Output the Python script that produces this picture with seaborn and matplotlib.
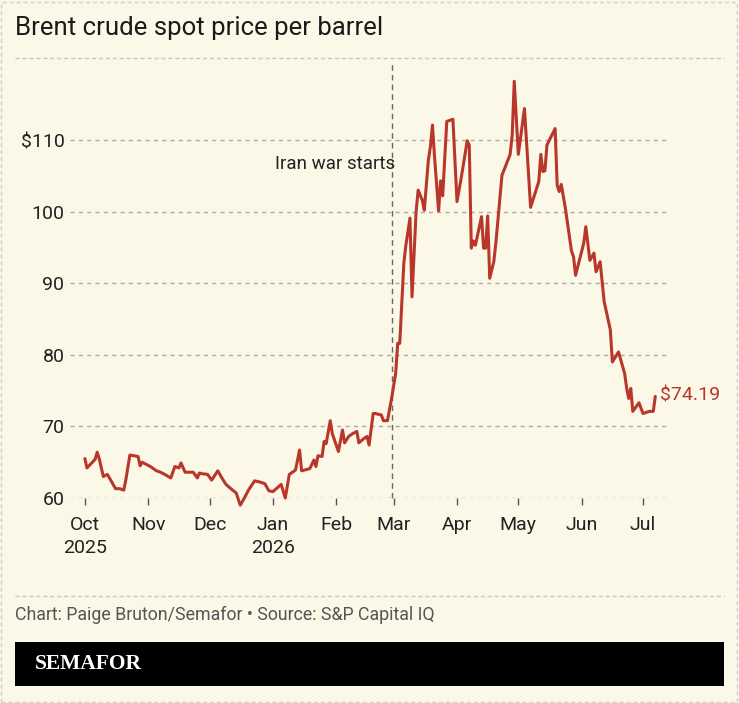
import pandas as pd
import matplotlib
matplotlib.use("Agg")
import matplotlib.pyplot as plt
import seaborn as sns
from matplotlib.lines import Line2D
from matplotlib.patches import Rectangle

# Brent crude, daily-ish readings (USD per barrel)
dates = [
    "2025-10-01", "2025-10-02", "2025-10-04", "2025-10-06", "2025-10-07", "2025-10-08",
    "2025-10-10", "2025-10-12", "2025-10-14", "2025-10-16", "2025-10-18", "2025-10-20",
    "2025-10-21", "2025-10-23", "2025-10-25", "2025-10-27", "2025-10-28", "2025-10-29",
    "2025-11-02", "2025-11-05", "2025-11-07", "2025-11-09", "2025-11-12", "2025-11-14",
    "2025-11-16", "2025-11-17", "2025-11-19", "2025-11-23", "2025-11-25", "2025-11-26",
    "2025-11-27", "2025-11-30", "2025-12-02", "2025-12-05", "2025-12-07", "2025-12-09",
    "2025-12-11", "2025-12-14", "2025-12-16", "2025-12-18", "2025-12-20", "2025-12-23",
    "2025-12-26", "2025-12-28", "2025-12-30", "2026-01-01", "2026-01-05", "2026-01-07",
    "2026-01-09", "2026-01-11", "2026-01-12", "2026-01-14", "2026-01-15", "2026-01-19",
    "2026-01-21", "2026-01-22", "2026-01-23", "2026-01-25", "2026-01-26", "2026-01-27",
    "2026-01-29", "2026-01-30", "2026-02-02", "2026-02-04", "2026-02-05", "2026-02-07",
    "2026-02-09", "2026-02-11", "2026-02-12", "2026-02-14", "2026-02-16", "2026-02-17",
    "2026-02-19", "2026-02-20", "2026-02-23", "2026-02-24", "2026-02-26", "2026-02-28",
    "2026-03-02", "2026-03-03", "2026-03-04", "2026-03-06", "2026-03-07", "2026-03-09",
    "2026-03-10", "2026-03-12", "2026-03-13", "2026-03-15", "2026-03-16", "2026-03-18",
    "2026-03-19", "2026-03-20", "2026-03-21", "2026-03-23", "2026-03-24", "2026-03-25",
    "2026-03-27", "2026-03-30", "2026-04-01", "2026-04-03", "2026-04-06", "2026-04-07",
    "2026-04-08", "2026-04-09", "2026-04-10", "2026-04-13", "2026-04-14", "2026-04-15",
    "2026-04-16", "2026-04-17", "2026-04-19", "2026-04-20", "2026-04-23", "2026-04-24",
    "2026-04-27", "2026-04-28", "2026-04-29", "2026-05-01", "2026-05-04", "2026-05-07",
    "2026-05-11", "2026-05-12", "2026-05-13", "2026-05-14", "2026-05-15", "2026-05-19",
    "2026-05-20", "2026-05-21", "2026-05-22", "2026-05-24", "2026-05-27", "2026-05-28",
    "2026-05-29", "2026-06-02", "2026-06-03", "2026-06-05", "2026-06-07", "2026-06-08",
    "2026-06-10", "2026-06-12", "2026-06-15", "2026-06-16", "2026-06-19", "2026-06-22",
    "2026-06-23", "2026-06-24", "2026-06-25", "2026-06-26", "2026-06-29", "2026-07-01",
    "2026-07-04", "2026-07-06", "2026-07-07",
]
prices = [
    65.5, 64.2, 64.8, 65.4, 66.4, 65.5,
    63.0, 63.3, 62.3, 61.3, 61.3, 61.1,
    62.5, 66.0, 65.9, 65.8, 64.5, 65.0,
    64.4, 63.8, 63.6, 63.3, 62.8, 64.4,
    64.2, 64.9, 63.6, 63.6, 62.8, 63.5,
    63.4, 63.3, 62.5, 63.8, 62.8, 61.9,
    61.4, 60.7, 59.0, 60.0, 61.1, 62.4,
    62.2, 62.0, 61.0, 60.9, 61.9, 60.0,
    63.3, 63.7, 63.9, 66.7, 63.8, 64.1,
    65.3, 64.4, 65.9, 65.8, 67.9, 67.6,
    70.8, 69.0, 66.5, 69.5, 67.7, 68.6,
    69.0, 69.3, 67.7, 68.2, 68.6, 67.4,
    71.8, 71.8, 71.6, 70.8, 70.8, 73.9,
    77.4, 81.6, 81.6, 92.8, 95.3, 99.1,
    88.1, 100.0, 103.0, 101.6, 100.2, 107.2,
    109.1, 112.1, 107.7, 100.1, 104.3, 102.2,
    112.6, 112.9, 101.4, 104.6, 109.9, 109.3,
    94.9, 95.9, 95.3, 99.3, 94.9, 94.9,
    99.4, 90.7, 93.0, 95.6, 105.1, 105.8,
    108.0, 110.7, 118.2, 108.0, 114.4, 100.6,
    104.2, 108.0, 105.6, 105.7, 109.3, 111.6,
    103.7, 102.8, 103.8, 100.5, 94.5, 93.7,
    91.1, 95.6, 97.9, 93.2, 94.2, 91.6,
    93.0, 87.4, 83.5, 79.0, 80.4, 77.4,
    75.3, 73.9, 75.3, 72.1, 73.3, 71.8,
    72.1, 72.1, 74.19,
]

month_ticks = ["2025-10-01", "2025-11-01", "2025-12-01", "2026-01-01", "2026-02-01",
               "2026-03-01", "2026-04-01", "2026-05-01", "2026-06-01", "2026-07-01"]
month_labels = ["Oct\n2025", "Nov", "Dec", "Jan\n2026", "Feb",
                "Mar", "Apr", "May", "Jun", "Jul"]
y_ticks = [60, 70, 80, 90, 100, 110]
y_labels = ["60", "70", "80", "90", "100", "$110"]

war_date = "2026-02-28"
war_label = "Iran war starts"
last_label = "$74.19"

BG = "#FBF8E7"
RED = "#B8372A"
GRID = "#ABABAB"

df = pd.DataFrame({"date": pd.to_datetime(dates), "price": prices})

sns.set_theme(style="white")
plt.rcParams["font.family"] = ["Roboto", "DejaVu Sans"]

fig = plt.figure(figsize=(7.39, 7.03), dpi=100, facecolor=BG)
ax = fig.add_axes([70 / 739, 1 - 498 / 703, 598 / 739, (498 - 75.6) / 703])
ax.set_facecolor(BG)

sns.lineplot(data=df, x="date", y="price", ax=ax, color=RED, linewidth=2.2,
             clip_on=False, zorder=5)

ax.set_xlim(pd.Timestamp("2025-09-23 17:00"), pd.Timestamp("2026-07-13 05:00"))
ax.set_ylim(60, 119)

# horizontal grid
for v in y_ticks:
    ax.axhline(v, color=GRID, linewidth=1, dashes=(3, 3), zorder=1)

ax.set_yticks(y_ticks)
ax.set_yticklabels(y_labels)
ax.set_xticks(pd.to_datetime(month_ticks))
ax.set_xticklabels(month_labels)
for lab in ax.get_xticklabels():
    lab.set_linespacing(1.35)

ax.tick_params(axis="y", length=0, pad=4, labelsize=14, labelcolor="#222222")
ax.tick_params(axis="x", length=5, width=1, color="#555555", pad=8,
               labelsize=14, labelcolor="#222222", bottom=True)
for s in ax.spines.values():
    s.set_visible(False)
ax.set_xlabel("")
ax.set_ylabel("")

# war marker
wd = pd.Timestamp(war_date)
ax.plot([wd, wd], [60, 121], color="#666666", linewidth=1, dashes=(4, 3),
        clip_on=False, zorder=2)
ax.text(pd.Timestamp("2026-03-01 12:00"), 106.6, war_label, ha="right", va="center",
        fontsize=13.5, color="#222222", zorder=3)

ax.text(pd.Timestamp("2026-07-09 12:00"), 74.3, last_label, ha="left", va="center",
        fontsize=14, color=RED)

# title and furniture
fig.text(15 / 739, 1 - 28 / 703, "Brent crude spot price per barrel", ha="left",
         va="center", fontsize=18.5, color="#1a1a1a")
for yy in (58, 596):
    fig.add_artist(Line2D([15 / 739, 724 / 739], [1 - yy / 703] * 2, color="#C8C8C8",
                          linewidth=1, dashes=(3, 2)))
fig.text(15 / 739, 1 - 615 / 703, "Chart: Paige Bruton/Semafor \u2022 Source: S&P Capital IQ",
         ha="left", va="center", fontsize=12.8, color="#555555")
fig.add_artist(Rectangle((15 / 739, 1 - 686 / 703), 709 / 739, 44 / 703,
                         facecolor="black", edgecolor="none"))
fig.text(35 / 739, 1 - 664 / 703, "SEMAFOR", ha="left", va="center", fontsize=15.5,
         fontweight="bold", color="white", family="Liberation Serif")
fig.add_artist(Rectangle((1 / 739, 1 / 703), 736 / 739, 700 / 703, facecolor="none",
                         edgecolor="#CFCFCF", linewidth=1, linestyle=(0, (3, 2))))

fig.savefig("out.png", dpi=100, facecolor=BG)
